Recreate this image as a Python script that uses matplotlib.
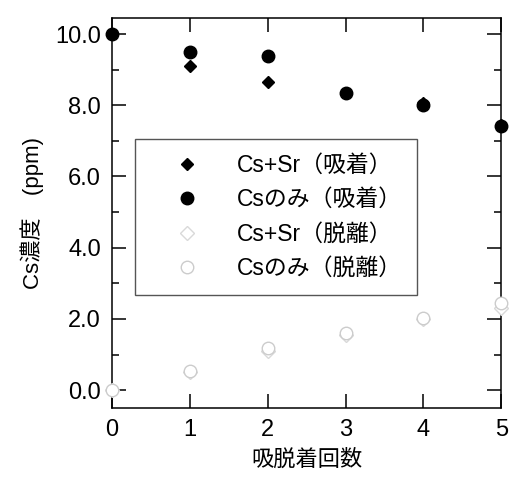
import matplotlib
matplotlib.use("Agg")
import matplotlib.pyplot as plt
from matplotlib.ticker import MultipleLocator

plt.rcParams['font.family'] = ['Liberation Sans', 'Noto Sans CJK JP']

# data
cycles = [0, 1, 2, 3, 4, 5]
cssr_ads = [10.0, 9.1, 8.65, 8.35, 8.05, 7.45]
cs_ads = [10.0, 9.5, 9.38, 8.34, 8.0, 7.41]
cssr_des = [0.0, 0.5, 1.1, 1.55, 2.0, 2.3]
cs_des = [0.0, 0.55, 1.18, 1.6, 2.02, 2.45]
labels = ['Cs+Sr（吸着）', 'Csのみ（吸着）', 'Cs+Sr（脱離）', 'Csのみ（脱離）']

fig = plt.figure(figsize=(5.12, 4.82), dpi=100)
ax = fig.add_axes([0.219, 0.1535, 0.76, 0.8092])

ax.plot(cycles, cssr_ads, 'D', color='black', ms=6.5, ls='none', clip_on=False, label=labels[0], zorder=3)
ax.plot(cycles, cs_ads, 'o', color='black', ms=9, ls='none', clip_on=False, label=labels[1], zorder=3)
ax.plot(cycles, cssr_des, 'D', mfc='white', mec='#d9d9d9', mew=1.0, ms=7, ls='none', clip_on=False, label=labels[2], zorder=3)
ax.plot(cycles, cs_des, 'o', mfc='white', mec='#cccccc', mew=1.0, ms=9, ls='none', clip_on=False, label=labels[3], zorder=3)

ax.set_xlim(0, 5)
ax.set_xticks(cycles)
ax.yaxis.set_major_locator(MultipleLocator(2))
ax.yaxis.set_minor_locator(MultipleLocator(1))
ax.set_ylim(-0.5, 10.45)
ax.yaxis.set_major_formatter(lambda v, p: '%.1f' % v)

ax.tick_params(which='both', direction='in', top=True, right=True, labelsize=17, width=1.1, pad=8)
ax.tick_params(which='major', length=10)
ax.tick_params(which='minor', length=5)
for s in ax.spines.values():
    s.set_linewidth(1.1)

ax.set_xlabel('吸脱着回数', fontsize=16, labelpad=6)
ax.set_ylabel('Cs濃度　(ppm)', fontsize=16, labelpad=8)

leg = ax.legend(loc='upper left', bbox_to_anchor=(0.059, 0.69), borderaxespad=0,
                fontsize=16.5, fancybox=False, edgecolor='#555555', framealpha=1,
                labelspacing=0.5, handletextpad=0.6, borderpad=0.65, handlelength=3.2)
leg.get_frame().set_linewidth(1.0)

fig.savefig('out.png', dpi=100)
